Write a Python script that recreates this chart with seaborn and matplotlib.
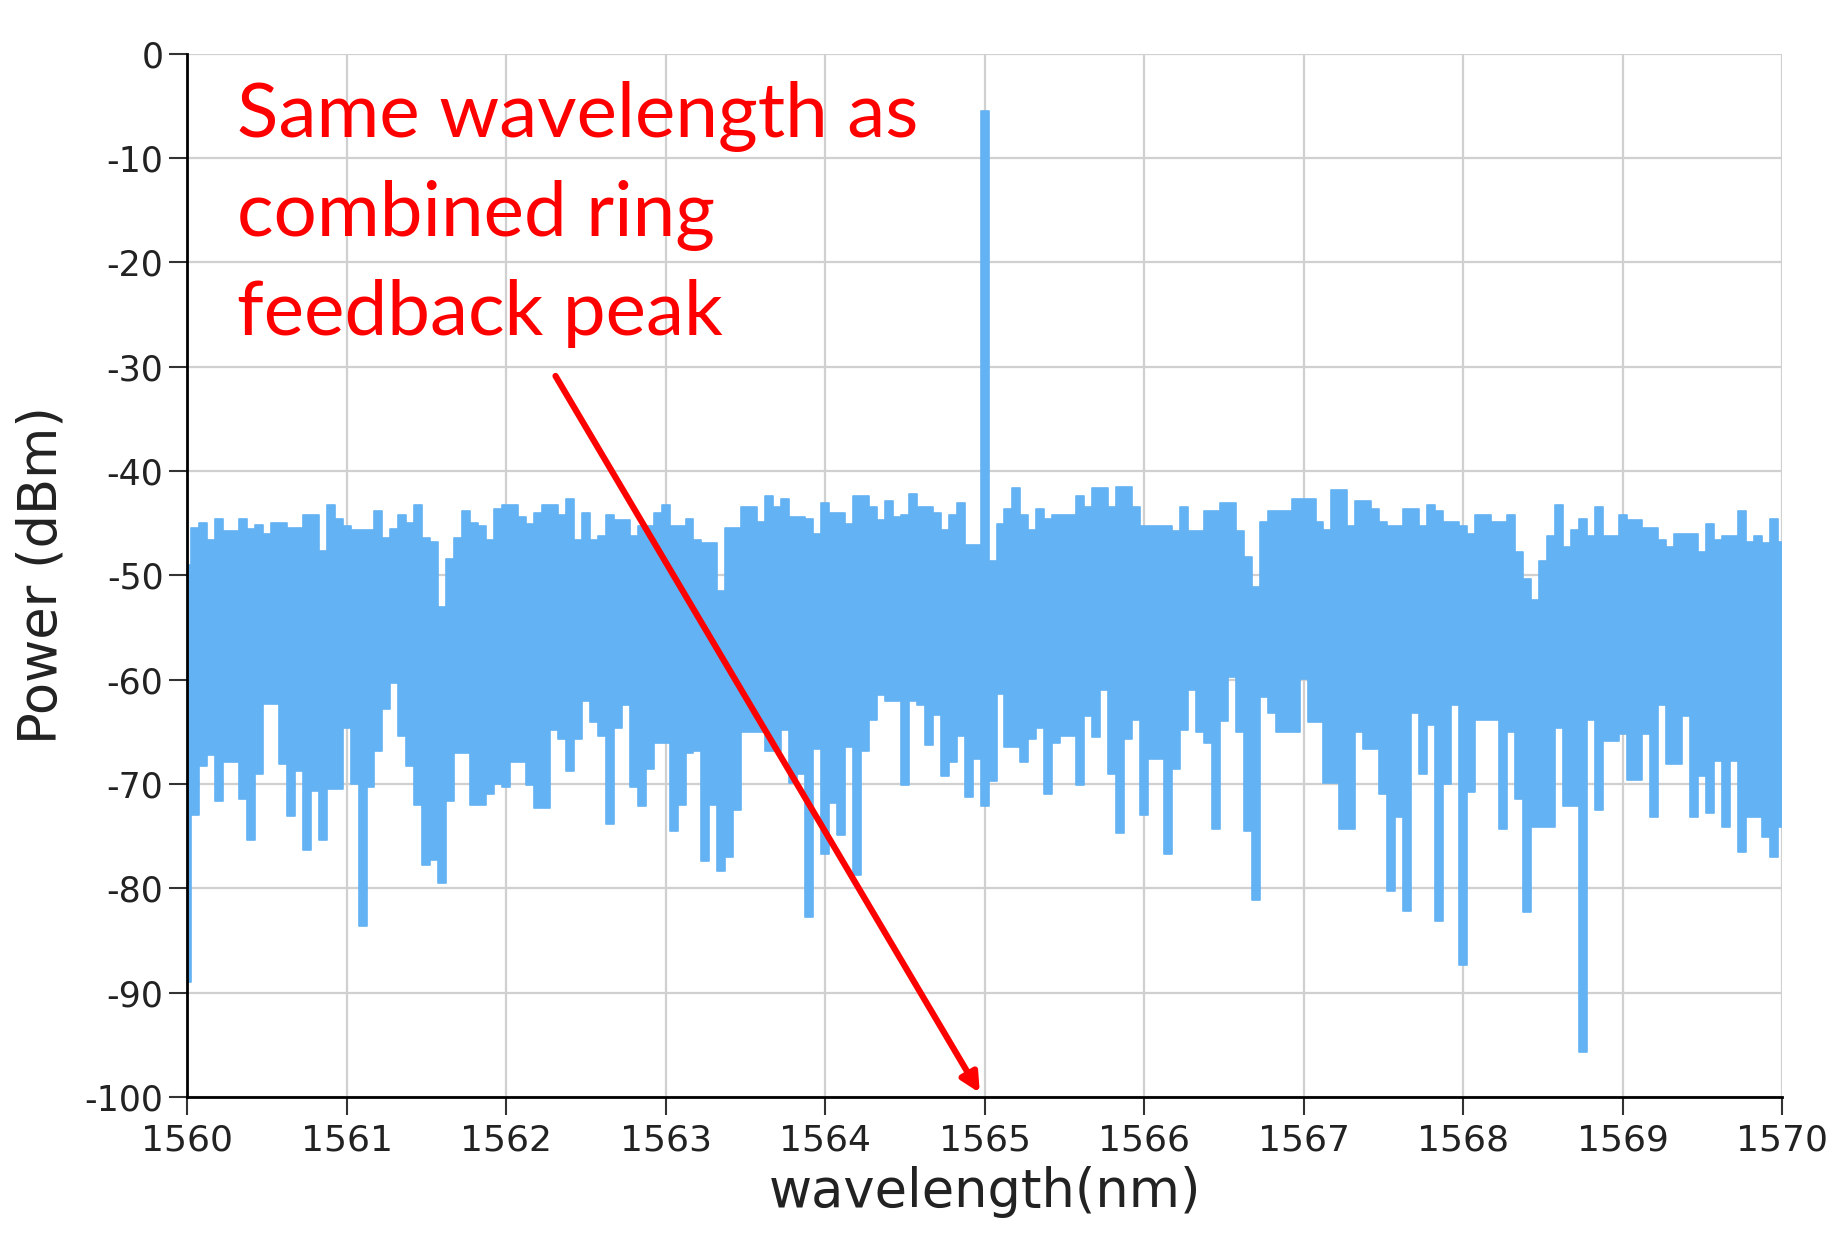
import matplotlib
matplotlib.use("Agg")
import matplotlib.pyplot as plt
import seaborn as sns
import numpy as np
import pandas as pd

sns.set_style("whitegrid")
plt.rcParams['font.family'] = ['DejaVu Sans']
plt.rcParams['axes.unicode_minus'] = False

# spectrum, one (upper, lower) pair every 0.05 nm
upper_dbm = [
    -49, -45.5, -45, -46.6, -44.6, -45.8, -45.8, -44.6, -45.6, -45.2,
    -46, -45, -45, -45.5, -45.5, -44.2, -44.2, -47.7, -43.3, -44.6,
    -45.3, -45.7, -45.7, -45.7, -43.8, -46.4, -45.6, -44.2, -45, -43.3,
    -46.4, -46.8, -53, -48.4, -46.4, -43.8, -45, -45.3, -46.6, -43.6,
    -43.3, -43.3, -44.4, -45.1, -44, -43.3, -43.3, -44.2, -42.7, -46.6,
    -44, -46.6, -46.2, -44.2, -44.7, -44.7, -46.2, -45.3, -45.3, -44,
    -43.3, -45.3, -45.3, -44.6, -46.6, -46.9, -46.9, -51.5, -45.5, -45.5,
    -43.5, -43.5, -44.9, -42.4, -43.5, -42.7, -44.4, -44.4, -44.6, -46,
    -43.1, -44, -44, -45.1, -42.4, -42.4, -43.5, -44.7, -42.9, -44.4,
    -44.2, -42.2, -43.5, -43.5, -44, -45.7, -44.2, -43.1, -47.1, -47.1,
    -5.5, -48.6, -45.1, -43.6, -41.6, -44.2, -45.7, -43.6, -44.6, -44.2,
    -44.2, -44.2, -42.4, -43.5, -41.6, -41.6, -43.5, -41.5, -41.5, -43.5,
    -45.3, -45.3, -45.3, -45.3, -45.8, -43.5, -45.8, -45.8, -43.8, -43.8,
    -43.1, -43.1, -45.8, -48.2, -51.1, -44.9, -43.8, -43.8, -43.8, -42.7,
    -42.7, -42.7, -44.9, -45.7, -41.8, -41.8, -45.3, -42.9, -42.9, -43.6,
    -44.9, -45.3, -45.3, -43.6, -43.6, -45.3, -43.3, -43.8, -44.9, -44.9,
    -45.3, -46, -44.2, -44.2, -44.9, -44.9, -44.2, -47.8, -50.4, -52.4,
    -48.6, -46.2, -43.3, -47.3, -45.7, -44.6, -46.2, -43.5, -46.2, -46.2,
    -44.2, -44.7, -44.7, -45.5, -45.5, -46.6, -47.3, -46, -46, -46,
    -47.8, -45.1, -46.6, -46.2, -46.2, -43.8, -46.8, -46.2, -46.9, -44.6,
    -46.8,
]
lower_dbm = [
    -89, -73, -68.3, -67.2, -71.6, -67.9, -67.9, -71.4, -75.4, -69,
    -62.3, -62.3, -68.1, -73.1, -68.8, -76.3, -70.7, -75.4, -70.5, -70.5,
    -64.6, -70, -83.6, -70.3, -66.8, -62.8, -60.3, -65.4, -68.3, -72,
    -77.8, -77.3, -79.5, -71.6, -67, -67, -72, -72, -71, -70,
    -70.3, -67.9, -67.9, -70.1, -72.3, -72.3, -64.8, -65.7, -68.8, -65.7,
    -62, -64.1, -65.4, -73.8, -64.6, -62.4, -70.3, -72.1, -68.6, -66.1,
    -66.1, -74.5, -72, -67, -66.8, -77.4, -72, -78.3, -77, -72.5,
    -65, -65, -65, -66.8, -66.8, -64.8, -69.9, -69, -82.7, -66.6,
    -76.7, -71.8, -74.9, -66.5, -78.7, -66.8, -63.9, -61.5, -62, -62,
    -70.1, -62, -62.4, -66.3, -63.4, -69.2, -67.9, -65.4, -71.2, -67.6,
    -72.1, -69.7, -61.4, -66.5, -66.5, -67.9, -65.7, -64.6, -71, -66.1,
    -65.4, -65.4, -70.1, -63.5, -65.5, -61, -69, -74.7, -65.7, -63.9,
    -73, -67.6, -67.6, -76.7, -68.6, -64.8, -61, -65, -66.1, -74.3,
    -64, -59.7, -65, -74.5, -81.1, -61.7, -63.2, -65, -65, -65,
    -59.9, -64.1, -64.1, -69.9, -69.9, -74.3, -74.3, -65, -66.6, -66.6,
    -71, -80.3, -73.2, -82.2, -63.2, -69, -64.3, -83.1, -70, -62.4,
    -87.3, -70.8, -63.9, -63.9, -63.9, -74.3, -65, -71.4, -82.3, -74.1,
    -74.1, -74.1, -64.6, -72.1, -72.1, -95.7, -63.9, -72.5, -65.9, -65.9,
    -65.2, -69.6, -69.6, -65.2, -73.2, -62.4, -68.1, -68.1, -63.5, -73.2,
    -69.2, -72.8, -67.8, -74.1, -67.8, -76.5, -73.2, -73.2, -75.1, -77,
    -74.1,
]
wavelength = np.linspace(1560, 1570, len(upper_dbm))

x_ticks = list(range(1560, 1571))
y_ticks = list(range(0, -101, -10))
note = "Same wavelength as\ncombined ring\nfeedback peak"

df = pd.DataFrame({'wavelength': wavelength, 'upper': upper_dbm, 'lower': lower_dbm})
blue = '#63B3F4'

fig = plt.figure(figsize=(18.36, 12.34), dpi=100)
ax = fig.add_axes([0.1019, 0.111, 0.8687, 0.8456])

ax.fill_between(df.wavelength, df.lower, df.upper, step='mid', color=blue, linewidth=0)
sns.lineplot(data=df, x='wavelength', y='upper', drawstyle='steps-mid', color=blue, lw=1.2, ax=ax)
sns.lineplot(data=df, x='wavelength', y='lower', drawstyle='steps-mid', color=blue, lw=1.2, ax=ax)

ax.set_xlim(1560, 1570)
ax.set_ylim(-100, 0)
ax.set_xticks(x_ticks)
ax.set_yticks(y_ticks)
ax.grid(True, color='#d0d0d0', lw=1.6)
for s in ['top', 'right']:
    ax.spines[s].set_visible(False)
for s in ['left', 'bottom']:
    ax.spines[s].set_color('black')
    ax.spines[s].set_linewidth(2)
ax.tick_params(bottom=True, left=True, direction='out', length=13, width=1.5,
               color='#333333', labelcolor='#222222')
ax.tick_params(axis='x', labelsize=26, pad=6)
ax.tick_params(axis='y', labelsize=25, pad=4)

ax.set_xlabel('wavelength(nm)', fontsize=38, color='#222222', labelpad=6)
ax.set_ylabel('Power (dBm)', fontsize=38, color='#222222', labelpad=12)

ax.text(1560.31, -2.6, note, color='red', fontsize=55, family=['Lato', 'DejaVu Sans'],
        va='top', ha='left', linespacing=1.5)
ax.annotate('', xy=(1564.97, -99.6), xytext=(1562.31, -30.9),
            arrowprops=dict(arrowstyle='-|>', color='red', lw=4.5, mutation_scale=28,
                            shrinkA=0, shrinkB=0))

plt.savefig('out.png', dpi=100)
